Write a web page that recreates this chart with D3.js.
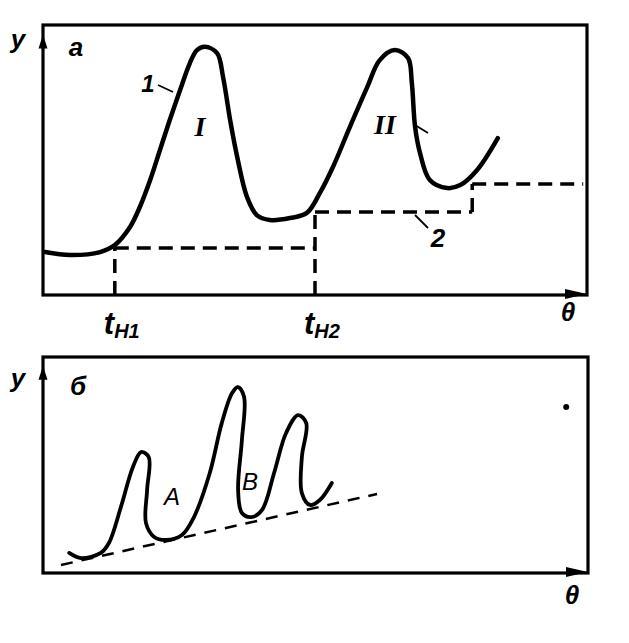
<!DOCTYPE html>
<html><head><meta charset="utf-8">
<script src="https://cdn.jsdelivr.net/npm/d3@7"></script>
<style>body{margin:0;background:#fff}text{font-family:"Liberation Sans",Arial,sans-serif;font-style:italic;font-weight:bold;fill:#000}</style>
</head><body><svg id="c" width="629" height="643"></svg>
<script>
// Panel a: curve 1 (theta, y)
const curve1X = [0.4,5,10.5,13.2,16,17.8,19.7,21.5,23.3,25.2,27,28.3,29.8,32,33.1,34.4,35.7,37.5,39.3,41.7,45.4,48.5,50.9,53.3,56.4,59.6,61.9,64.7,67.1,67.8,68.4,69.3,71.1,74.3,76.7,79.8,83.6];
const curve1Y = [15.9,14.8,15.9,18.5,25.2,32.6,42.6,53.7,64.8,75.9,85.9,90.7,91.9,89.6,80.7,64.8,51.1,36.3,29.6,27.8,28.5,30.4,37.8,47.4,62.2,77,87,90.7,87.8,78.5,62.2,52.6,42.6,39.6,40.7,46.3,58.1];
// Panel a: step line 2
const stepStart = [13.2,50,78.9];
const stepLevel = [17.4,30.7,41.1];
const stepEnd = 99.3;
const tickLabels = ["Н1","Н2"];
// Panel b: curve
const curveBX = [4.8,7,10.6,12.1,14.3,16.5,18,19.4,19.1,18.9,20.4,22.6,25.5,27.7,30.6,32.8,34.7,35.8,36.9,36.5,35.8,36.5,38.3,40.2,42.4,44.6,46.8,48.3,47.5,47.5,49,50.8,53];
const curveBY = [9.3,6.9,9.3,13.9,30.6,49.1,56,53.7,38.4,23.1,16.7,15.3,17.6,25.9,46.3,69.4,83.3,86.1,81.5,61.6,38.4,27.8,25.9,29.2,46.3,64.8,73.1,69.4,53.7,37,31.5,33.8,41.7];
const baseLineX = [3.3,61.3];
const baseLineY = [3.7,36.6];
const dotB = [96,76.9];

const svg = d3.select("#c");
const xa = d3.scaleLinear().domain([0,100]).range([43,587]);
const ya = d3.scaleLinear().domain([0,100]).range([295,25]);
const xb = d3.scaleLinear().domain([0,100]).range([43,588]);
const yb = d3.scaleLinear().domain([0,100]).range([573,357]);

function frame(x0,y0,x1,y1){
  svg.append("rect").attr("x",x0).attr("y",y0).attr("width",x1-x0).attr("height",y1-y0)
    .attr("fill","none").attr("stroke","#000").attr("stroke-width",3.2);
}
function arrowUp(x,tip){svg.append("path").attr("d",`M${x},${tip}L${x-4.5},${tip+14}L${x+4.5},${tip+14}Z`).attr("fill","#000");}
function arrowRight(tip,y){svg.append("path").attr("d",`M${tip},${y}L${tip-22},${y-5}L${tip-22},${y+5}Z`).attr("fill","#000");}
function txt(x,y,s,size,anchor){return svg.append("text").attr("x",x).attr("y",y).attr("font-size",size).attr("text-anchor",anchor||"middle").text(s);}
function seg(x1,y1,x2,y2,w){svg.append("line").attr("x1",x1).attr("y1",y1).attr("x2",x2).attr("y2",y2).attr("stroke","#000").attr("stroke-width",w||1.5);}

// ---- Panel a
frame(xa(0),ya(100),xa(100),ya(0));
arrowUp(xa(0),ya(96.5));
arrowRight(xa(100),ya(0)-1);
svg.append("path").datum(curve1X.map((x,i)=>[x,curve1Y[i]]))
  .attr("d",d3.line().x(d=>xa(d[0])).y(d=>ya(d[1])).curve(d3.curveCatmullRom.alpha(0.5)))
  .attr("fill","none").attr("stroke","#000").attr("stroke-width",4.5).attr("stroke-linecap","round");
// step line 2
const dash = {w:3.5, a:"14,8"};
const stepSegs = [];
stepStart.forEach((s,i)=>{
  const e = i<stepStart.length-1 ? stepStart[i+1] : stepEnd;
  const prev = i>0 ? stepLevel[i-1] : 0;
  stepSegs.push([[s, i===stepStart.length-1 ? prev : 0],[s,stepLevel[i]]]);
  stepSegs.push([[s,stepLevel[i]],[e,stepLevel[i]]]);
});
stepSegs.forEach(sg=>{
  svg.append("line").attr("x1",xa(sg[0][0])).attr("y1",ya(sg[0][1])).attr("x2",xa(sg[1][0])).attr("y2",ya(sg[1][1]))
    .attr("stroke","#000").attr("stroke-width",dash.w).attr("stroke-dasharray",dash.a);
});
// labels a
txt(18,48,"y",26);
txt(76,56,"а",26);
txt(148,92,"1",24);
seg(158,85,173,92,1.8);
txt(200,136,"I",28).style("font-family","'Liberation Serif',serif");
txt(385,134,"II",28).style("font-family","'Liberation Serif',serif");
seg(415,125,428,133,1.8);
seg(415,215,428,228,1.8);
txt(438,247,"2",26);
stepStart.slice(0,2).forEach((s,i)=>{
  const t = svg.append("text").attr("x",xa(s)-11).attr("y",334).attr("font-size",31).attr("text-anchor","start");
  t.append("tspan").text("t");
  t.append("tspan").attr("font-size",20).attr("dy",4).text(tickLabels[i]);
});
txt(568,321,"θ",26);

// ---- Panel b
frame(xb(0),yb(100),xb(100),yb(0));
arrowUp(xb(0),yb(96));
arrowRight(xb(100),yb(0)-1);
svg.append("path").datum(curveBX.map((x,i)=>[x,curveBY[i]]))
  .attr("d",d3.line().x(d=>xb(d[0])).y(d=>yb(d[1])).curve(d3.curveCatmullRom.alpha(0.5)))
  .attr("fill","none").attr("stroke","#000").attr("stroke-width",3.8).attr("stroke-linecap","round");
svg.append("line").attr("x1",xb(baseLineX[0])).attr("y1",yb(baseLineY[0])).attr("x2",xb(baseLineX[1])).attr("y2",yb(baseLineY[1]))
  .attr("stroke","#000").attr("stroke-width",2.5).attr("stroke-dasharray","12,9");
svg.append("circle").attr("cx",xb(dotB[0])).attr("cy",yb(dotB[1])).attr("r",3).attr("fill","#000");
txt(18,387,"y",26);
txt(78,395,"б",26);
txt(172,505,"А",24).style("font-weight","normal");
txt(250,490,"В",24).style("font-weight","normal");
txt(572,604,"θ",26);
</script></body></html>
